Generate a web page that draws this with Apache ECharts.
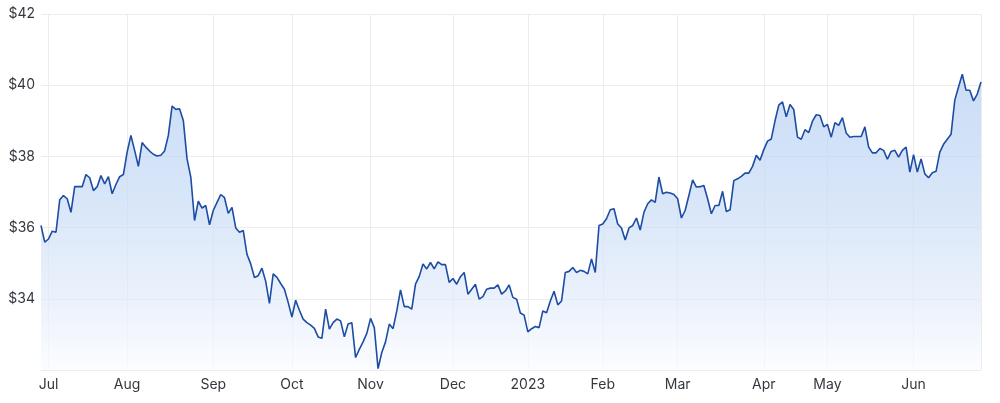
<!DOCTYPE html>
<html>
<head>
<meta charset="utf-8">
<script src="https://cdn.jsdelivr.net/npm/echarts@6.0.0/dist/echarts.min.js"></script>
<style>
  html, body { margin: 0; padding: 0; background: #ffffff; }
  #chart { width: 1000px; height: 403px; }
</style>
</head>
<body>
<div id="chart"></div>
<script>
// Month labels shown on the x axis (first trading day of each month)
const monthLabels = ['Jul', 'Aug', 'Sep', 'Oct', 'Nov', 'Dec', '2023', 'Feb', 'Mar', 'Apr', 'May', 'Jun'];
// Trading days in each month shown (last month partial)
const monthTradingDays = [21, 23, 21, 21, 22, 20, 20, 20, 23, 17, 23, 19];
// Trading days before the first labelled month (end of June 2022)
const leadDays = 2;

// Y axis tick values
const yTicks = [32, 34, 36, 38, 40, 42];

// Daily closing price ($)
const closePrices = [
  36.06, 35.59, 35.68, 35.90, 35.87, 36.78, 36.90, 36.81, 36.43, 37.15,
  37.15, 37.15, 37.49, 37.40, 37.04, 37.15, 37.46, 37.23, 37.43, 36.95,
  37.21, 37.43, 37.49, 38.12, 38.59, 38.17, 37.72, 38.39, 38.26, 38.15,
  38.06, 38.01, 38.03, 38.15, 38.59, 39.41, 39.32, 39.34, 39.01, 37.93,
  37.42, 36.20, 36.74, 36.55, 36.62, 36.08, 36.48, 36.71, 36.93, 36.84,
  36.40, 36.57, 35.99, 35.87, 35.92, 35.25, 34.98, 34.60, 34.65, 34.86,
  34.49, 33.87, 34.70, 34.60, 34.43, 34.27, 33.90, 33.49, 33.96, 33.68,
  33.43, 33.33, 33.26, 33.17, 32.93, 32.89, 33.71, 33.15, 33.33, 33.43,
  33.38, 32.93, 33.29, 33.33, 32.35, 32.58, 32.79, 33.03, 33.45, 33.19,
  32.04, 32.49, 32.79, 33.29, 33.16, 33.66, 34.25, 33.78, 33.78, 33.71,
  34.41, 34.63, 34.98, 34.84, 35.02, 34.84, 35.04, 34.96, 34.96, 34.46,
  34.57, 34.41, 34.62, 34.74, 34.13, 34.27, 34.41, 33.99, 34.06, 34.27,
  34.30, 34.30, 34.39, 34.13, 34.22, 34.39, 34.04, 33.99, 33.60, 33.54,
  33.07, 33.16, 33.22, 33.19, 33.66, 33.61, 33.94, 34.21, 33.83, 33.94,
  34.74, 34.77, 34.88, 34.74, 34.80, 34.77, 34.70, 35.12, 34.74, 36.06,
  36.10, 36.25, 36.50, 36.53, 36.10, 35.99, 35.65, 35.99, 36.06, 36.27,
  35.93, 36.43, 36.67, 36.78, 36.71, 37.42, 36.95, 36.99, 36.97, 36.93,
  36.81, 36.27, 36.48, 36.90, 37.34, 37.14, 37.15, 37.18, 36.81, 36.39,
  36.62, 36.62, 37.02, 36.45, 36.50, 37.32, 37.37, 37.44, 37.53, 37.53,
  37.72, 38.03, 37.89, 38.19, 38.43, 38.49, 39.00, 39.44, 39.53, 39.11,
  39.46, 39.32, 38.54, 38.48, 38.75, 38.67, 38.99, 39.17, 39.15, 38.83,
  38.90, 38.54, 38.95, 38.87, 39.09, 38.66, 38.54, 38.56, 38.56, 38.56,
  38.83, 38.26, 38.10, 38.10, 38.22, 38.17, 37.92, 38.14, 38.17, 37.98,
  38.17, 38.26, 37.56, 38.05, 37.56, 37.93, 37.51, 37.40, 37.54, 37.58,
  38.12, 38.34, 38.48, 38.62, 39.58, 39.95, 40.31, 39.86, 39.86, 39.56,
  39.75, 40.09
];

// Build category keys: "<month>#<trading day number>"
const categories = [];
const monthStartIdx = new Set();
for (let d = 0; d < leadDays; d++) categories.push('prev#' + (d + 1));
monthLabels.forEach((m, mi) => {
  for (let d = 0; d < monthTradingDays[mi]; d++) {
    if (d === 0) monthStartIdx.add(categories.length);
    categories.push(m + '#' + (d + 1));
  }
});
const lastIdx = categories.length - 1;

const chart = echarts.init(document.getElementById('chart'), null, { renderer: 'canvas' });
const gridColor = '#ececec';
const textColor = '#33383f';
const font = 'Inter, "Noto Sans", Roboto, sans-serif';

chart.setOption({
  animation: false,
  backgroundColor: '#ffffff',
  grid: { left: 41, right: 19, top: 14, bottom: 33, containLabel: false },
  xAxis: {
    type: 'category',
    data: categories,
    boundaryGap: false,
    axisLine: { show: false },
    axisTick: { show: false },
    axisLabel: {
      interval: (idx) => monthStartIdx.has(idx),
      formatter: (v) => v.split('#')[0],
      color: textColor,
      fontFamily: font,
      fontSize: 14,
      margin: 8
    },
    splitLine: {
      show: true,
      interval: (idx) => monthStartIdx.has(idx) || idx === lastIdx,
      lineStyle: { color: gridColor, width: 1 }
    }
  },
  yAxis: {
    type: 'value',
    min: yTicks[0],
    max: yTicks[yTicks.length - 1],
    interval: yTicks[1] - yTicks[0],
    axisLine: { show: false },
    axisTick: { show: false },
    axisLabel: {
      formatter: (v) => (v === yTicks[0] ? '' : '$' + v),
      color: textColor,
      fontFamily: font,
      fontSize: 14,
      margin: 6
    },
    splitLine: { show: true, lineStyle: { color: gridColor, width: 1 } }
  },
  series: [{
    type: 'line',
    data: closePrices,
    symbol: 'none',
    smooth: false,
    lineStyle: { color: '#1d4ca3', width: 1.6 },
    areaStyle: {
      origin: 'start',
      color: new echarts.graphic.LinearGradient(0, 0, 0, 1, [
        { offset: 0, color: '#b3cef2' },
        { offset: 0.45, color: '#c9dcf6' },
        { offset: 0.8, color: '#e6eefb' },
        { offset: 1, color: '#fafcff' }
      ])
    }
  }]
});
</script>
</body>
</html>
